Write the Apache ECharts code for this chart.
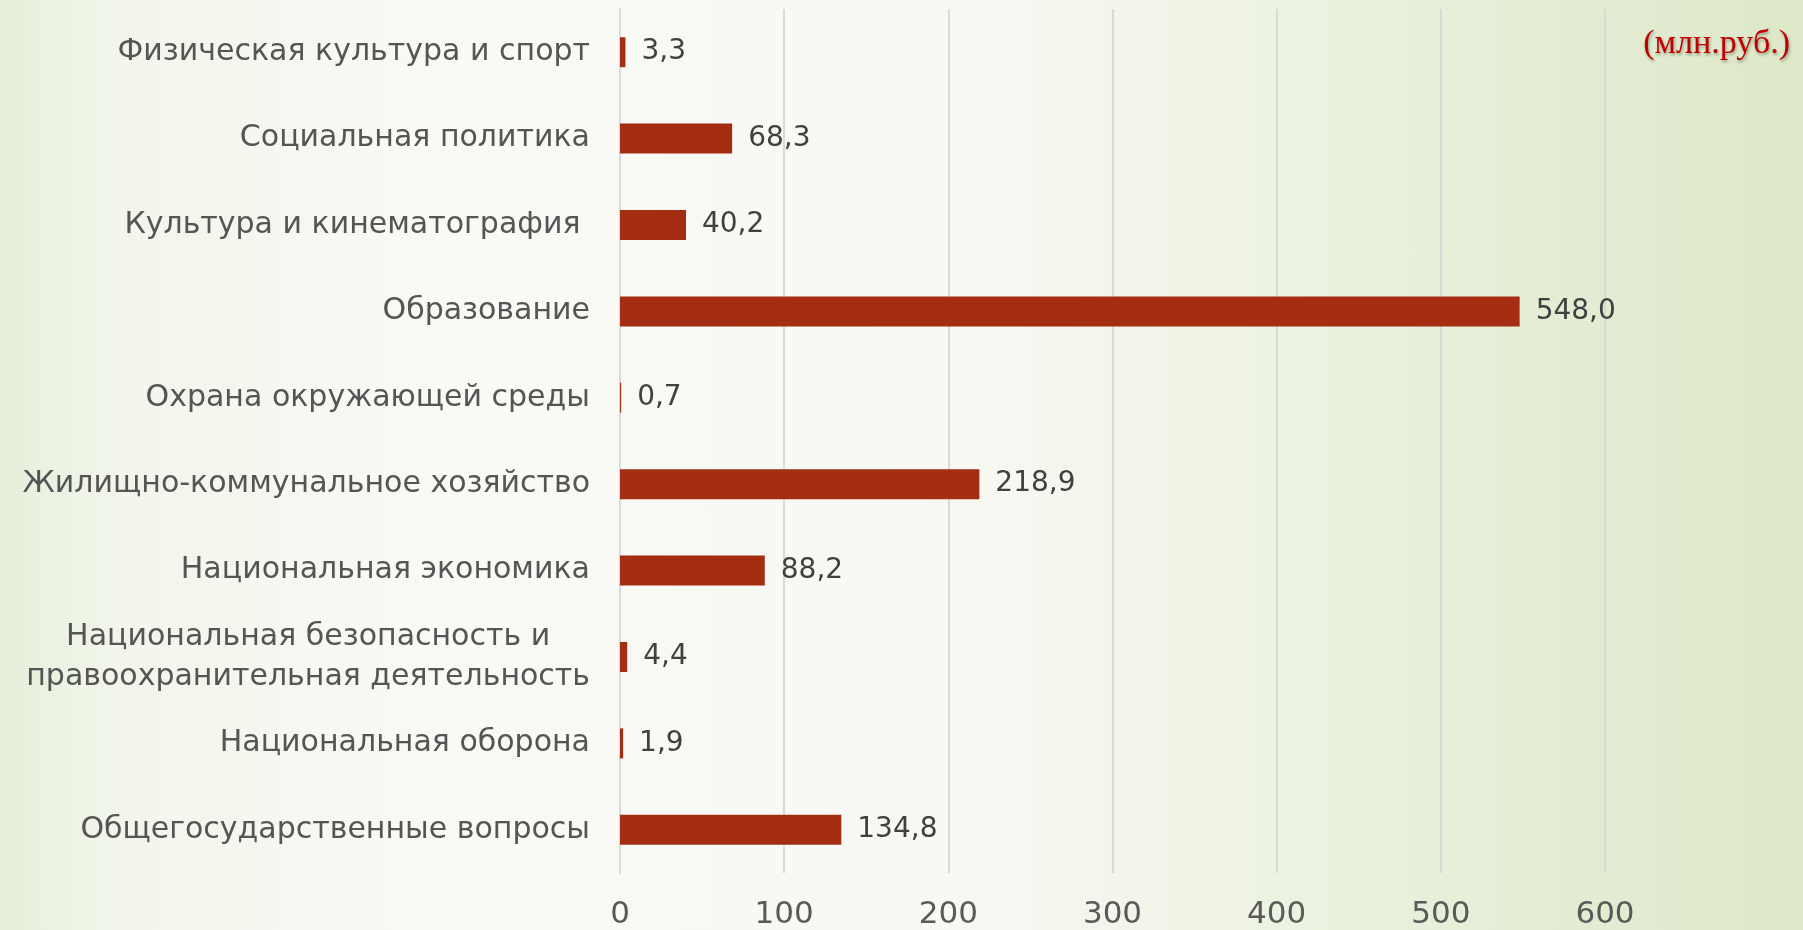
<!DOCTYPE html>
<html>
<head>
<meta charset="utf-8">
<script src="https://cdn.jsdelivr.net/npm/echarts@6/dist/echarts.min.js"></script>
<style>
html,body{margin:0;padding:0;}
body{width:1803px;height:930px;overflow:hidden;
background:linear-gradient(to right,#e6efda 0%,#f1f5ea 6%,#f9faf6 25%,#f7f8f2 55%,#eaf1de 75%,#dde8c8 100%);}
#chart{width:1803px;height:930px;}
</style>
</head>
<body>
<div id="chart"></div>
<script>
const categories = [
  "Физическая культура и спорт",
  "Социальная политика",
  "Культура и кинематография ",
  "Образование",
  "Охрана окружающей среды",
  "Жилищно-коммунальное хозяйство",
  "Национальная экономика",
  "Национальная безопасность и\nправоохранительная деятельность",
  "Национальная оборона",
  "Общегосударственные вопросы"
];
const values = [3.3, 68.3, 40.2, 548.0, 0.7, 218.9, 88.2, 4.4, 1.9, 134.8];
const unitLabel = "(млн.руб.)";

const FONT = "DejaVu Sans";
const chart = echarts.init(document.getElementById('chart'));
chart.setOption({
  backgroundColor: 'transparent',
  animation: false,
  title: {
    text: unitLabel,
    right: 8,
    top: 22,
    textStyle: {
      fontFamily: "Liberation Serif",
      fontSize: 34,
      fontWeight: 'normal',
      color: '#C00000',
      textShadowColor: 'rgba(0,0,0,0.35)',
      textShadowBlur: 3,
      textShadowOffsetX: 1,
      textShadowOffsetY: 2
    }
  },
  grid: { left: 620, right: 198, top: 9, bottom: 55, containLabel: false },
  xAxis: {
    type: 'value',
    min: 0, max: 600, interval: 100,
    axisLine: { show: false },
    axisTick: { show: false },
    splitLine: { lineStyle: { color: '#d9d9d9', width: 2 } },
    axisLabel: { fontFamily: FONT, fontSize: 31, color: '#595959', margin: 26 }
  },
  yAxis: {
    type: 'category',
    data: categories,
    inverse: true,
    axisLine: { show: true, lineStyle: { color: '#d9d9d9', width: 2 } },
    axisTick: { show: false },
    axisLabel: {
      margin: 30,
      formatter: function (v) {
        return v.split('\n').map(function (s) { return '{c|' + s + '}'; }).join('\n');
      },
      rich: {
        c: { align: 'center', fontFamily: FONT, fontSize: 30, color: '#555555', lineHeight: 40 }
      }
    }
  },
  series: [{
    type: 'bar',
    data: values,
    barWidth: 30,
    itemStyle: { color: '#A52D11' },
    label: {
      show: true,
      position: 'right',
      distance: 16,
      fontFamily: FONT,
      fontSize: 28,
      color: '#404040',
      formatter: function (p) { return p.value.toFixed(1).replace('.', ','); }
    }
  }]
});
</script>
</body>
</html>
